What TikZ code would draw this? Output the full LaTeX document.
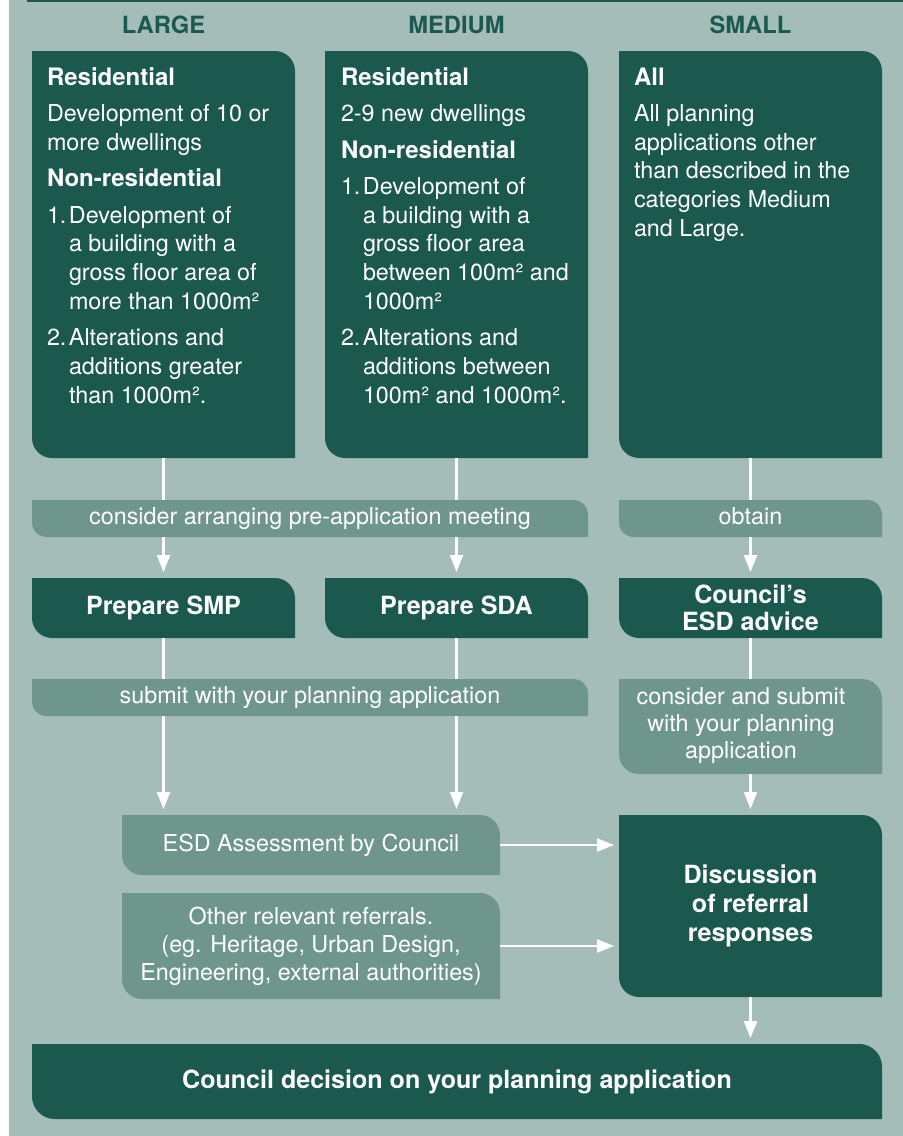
\documentclass[tikz,border=0pt]{standalone}
\usepackage{fontspec}
\setmainfont{TeX Gyre Heros}
\usetikzlibrary{arrows.meta,backgrounds,calc}
\definecolor{bgc}{HTML}{A4BDB8}
\definecolor{dk}{HTML}{1B594E}
\definecolor{md}{HTML}{6F968B}
% fill a node's rectangle with rounded top-right and bottom-left corners
\newcommand\leaffill[3]{%
  \fill[#2] (#1.north west) -- ([xshift=-#3]#1.north east)
    arc[start angle=90,end angle=0,radius=#3] -- (#1.south east)
    -- ([xshift=#3]#1.south west)
    arc[start angle=270,end angle=180,radius=#3] -- cycle;}
\newcommand\numit[1]{\makebox[16.5pt][l]{#1}}
\newcommand\hangin{\hspace*{16.5pt}}
\newcommand\hd[1]{{\bfseries\fontsize{18}{21.5}\selectfont #1}}
\begin{document}
\begin{tikzpicture}[x=0.75pt,y=-0.75pt,
  font=\fontsize{17.5}{21.5}\selectfont,
  every node/.style={inner sep=0pt,outer sep=0pt},
  colbox/.style={minimum width=197.25pt,minimum height=305.25pt},
  colhead/.style={text=dk,font=\bfseries\fontsize{17.8}{20}\selectfont},
  coltext/.style={text=white,anchor=base west,align=left},
  band/.style={text=white,minimum height=27.75pt,text height=12.8pt,text depth=3.7pt},
  lbl/.style={text=white,align=center},
  blbl/.style={text=white,align=center,font=\bfseries\fontsize{18.8}{20}\selectfont},
  wl/.style={draw=white,line width=1.6pt},
  wa/.style={draw=white,line width=1.6pt,-{Triangle[length=12.75pt,width=9.75pt]}}]
\useasboundingbox (0,0) rectangle (903,1136);

% column headings
\node[colhead] (hL) at (163.5,25) {LARGE};
\node[colhead] (hM) at (456.5,25) {MEDIUM};
\node[colhead] (hS) at (750.5,25) {SMALL};

% column boxes
\node[colbox] (large) at (163.5,254.5) {};
\node[colbox] (medium) at (456.5,254.5) {};
\node[colbox] (small) at (750.5,254.5) {};

\node[coltext] (largetxt) at (47,85) {\begin{tabular}[t]{@{}l@{}}
\hd{Residential}\\[5.9pt]
Development of 10 or\\
more dwellings\\[5.9pt]
\hd{Non-residential}\\[5.9pt]
\numit{1.}Development of\\
\hangin a building with a\\
\hangin gross floor area of\\
\hangin more than 1000m²\\[5.9pt]
\numit{2.}Alterations and\\
\hangin additions greater\\
\hangin than 1000m².
\end{tabular}};

\node[coltext] (mediumtxt) at (341,85) {\begin{tabular}[t]{@{}l@{}}
\hd{Residential}\\[5.9pt]
2-9 new dwellings\\[5.9pt]
\hd{Non-residential}\\[5.9pt]
\numit{1.}Development of\\
\hangin a building with a\\
\hangin gross floor area\\
\hangin between 100m² and\\
\hangin 1000m²\\[5.9pt]
\numit{2.}Alterations and\\
\hangin additions between\\
\hangin 100m² and 1000m².
\end{tabular}};

\node[coltext] (smalltxt) at (634,85) {\begin{tabular}[t]{@{}l@{}}
\hd{All}\\[5.9pt]
All planning\\
applications other\\
than described in the\\
categories Medium\\
and Large.
\end{tabular}};

% bands and boxes
\node[band,minimum width=417pt] (pre) at (310,518.5) {consider arranging pre-application meeting};
\node[band,minimum width=197.25pt] (obtain) at (750.5,518.5) {obtain};

\node[blbl,minimum width=197.25pt,minimum height=45pt] (smp) at (163.5,608) {Prepare SMP};
\node[blbl,minimum width=197.25pt,minimum height=45pt] (sda) at (456.5,608) {Prepare SDA};
\node[blbl,minimum width=197.25pt,minimum height=45pt] (esd) at (750.5,608) {Council’s\\ESD advice};

\node[band,minimum width=417pt] (submit) at (310,697.5) {submit with your planning application};
\node[minimum width=197.25pt,minimum height=71.25pt] (consider) at (750.5,726.5) {};
\node[lbl,font=\fontsize{17.5}{20.25}\selectfont] (considertxt) at (741,725.5) {consider and submit\\with your planning\\application};

\node[lbl,minimum width=283.5pt,minimum height=45pt] (assess) at (311,845) {ESD Assessment by Council};
\node[lbl,minimum width=283.5pt,minimum height=79.5pt,font=\fontsize{17.5}{21}\selectfont] (other) at (311,946) {Other relevant referrals.\\(eg. Heritage, Urban Design,\\Engineering, external authorities)};

\node[blbl,minimum width=197.25pt,minimum height=136.5pt,font=\bfseries\fontsize{18.8}{21.75}\selectfont] (disc) at (750.5,906) {Discussion\\of referral\\responses};

\node[blbl,minimum width=637.5pt,minimum height=56.25pt] (final) at (457,1081.5) {Council decision on your planning application};

% fills
\begin{scope}[on background layer]
  \fill[bgc] (9,0) rectangle (903,1136);
  \fill[dk] (27,0) rectangle (903,2);
  \leaffill{large}{dk}{15pt}
  \leaffill{medium}{dk}{15pt}
  \leaffill{small}{dk}{15pt}
  \leaffill{pre}{md}{11pt}
  \leaffill{obtain}{md}{11pt}
  \leaffill{smp}{dk}{15pt}
  \leaffill{sda}{dk}{15pt}
  \leaffill{esd}{dk}{15pt}
  \leaffill{submit}{md}{11pt}
  \leaffill{consider}{md}{15pt}
  \leaffill{assess}{md}{15pt}
  \leaffill{other}{md}{15pt}
  \leaffill{disc}{dk}{15pt}
  \leaffill{final}{dk}{17pt}
\end{scope}

% connectors
\draw[wl] (large.south) -- (large.south |- pre.north);
\draw[wa] (large.south |- pre.south) -- ($(smp.north)+(0,-6)$);
\draw[wl] (medium.south) -- (medium.south |- pre.north);
\draw[wa] (medium.south |- pre.south) -- ($(sda.north)+(0,-6)$);
\draw[wl] (small.south) -- (obtain.north);
\draw[wa] (obtain.south) -- ($(esd.north)+(0,-6)$);

\draw[wl] (smp.south) -- (smp.south |- submit.north);
\draw[wa] (smp.south |- submit.south) -- ($(smp.south |- assess.north)+(0,-6)$);
\draw[wl] (sda.south) -- (sda.south |- submit.north);
\draw[wa] (sda.south |- submit.south) -- ($(sda.south |- assess.north)+(0,-6)$);
\draw[wl] (esd.south) -- (consider.north);
\draw[wa] (consider.south) -- ($(disc.north)+(0,-6)$);

\draw[wa] (assess.east) -- ($(disc.west |- assess.east)+(-5,0)$);
\draw[wa] (other.east) -- ($(disc.west |- other.east)+(-5,0)$);
\draw[wa] (disc.south) -- ($(disc.south |- final.north)+(0,-6)$);
\end{tikzpicture}
\end{document}
